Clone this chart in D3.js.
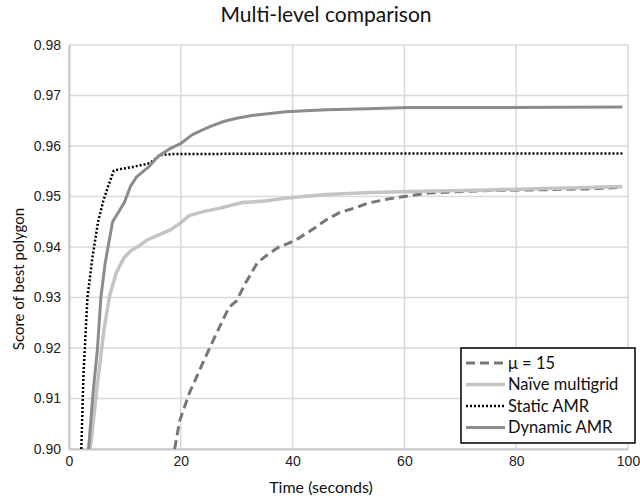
<!DOCTYPE html>
<meta charset="utf-8">
<style>
body { margin: 0; background: #fff; }
.grid line { stroke: #d9d9d9; stroke-width: 1.5; }
.tick text { font-family: "Liberation Sans", Arial, sans-serif; font-size: 14px; fill: #222; }
.title { font-family: Lato, "Open Sans", sans-serif; font-size: 21px; fill: #111; }
.axis-title { font-family: Lato, "Open Sans", sans-serif; font-size: 15px; fill: #111; }
.legend text { font-family: Lato, "Open Sans", sans-serif; font-size: 16.5px; fill: #111; }
</style>
<svg width="640" height="501"></svg>
<script src="https://cdn.jsdelivr.net/npm/d3@7"></script>
<script>

// values: [time (s), score]
var mu15 = [[18.9,0.900],[19.8,0.9056],[21.5,0.911],[22.6,0.9137],[23.8,0.9167],[26,0.922],[28.6,0.928],[30,0.9294],
  [31.5,0.9327],[33.7,0.9369],[35.2,0.9382],[37.4,0.9399],[40.3,0.9412],[43.2,0.9432],[46.2,0.9455],[48.4,0.9468],
  [51.3,0.9478],[53.5,0.9487],[57.1,0.9495],[60,0.950],[64.5,0.9507],[68.1,0.9509],[75.5,0.9512],[82.8,0.9513],
  [92.3,0.9515],[99,0.9518]];
var naive = [[3.8,0.900],[5,0.912],[6.3,0.924],[7.3,0.9305],[8.5,0.935],[9.8,0.9378],[11,0.9392],[12.5,0.9402],
  [14,0.9414],[16.3,0.9425],[18.3,0.9435],[20,0.9448],[21.5,0.9462],[24,0.947],[27,0.9477],[31,0.9488],[35,0.9491],
  [39,0.9497],[46,0.9504],[54,0.9508],[61,0.951],[75,0.9513],[99,0.952]];
var staticAmr = [[2.2,0.900],[2.6,0.915],[3.3,0.930],[4.2,0.938],[5.2,0.945],[6.1,0.949],[7,0.952],[8,0.9551],
  [9,0.9554],[11.2,0.9558],[14.5,0.9566],[16.3,0.9582],[18.5,0.9584],[40,0.9585],[99,0.9585]];
var dynamicAmr = [[3.5,0.900],[4.3,0.911],[5.1,0.920],[5.7,0.930],[6.5,0.937],[7.8,0.9450],[9.9,0.9488],[11,0.9520],
  [12.1,0.9539],[14.2,0.9558],[16,0.958],[18.1,0.9595],[20,0.9605],[22,0.9622],[23.5,0.963],[25.3,0.9639],
  [27.8,0.9649],[30,0.9655],[33,0.9661],[38.8,0.9668],[46,0.9672],[53.5,0.9674],[60.8,0.9676],[75.5,0.9676],[99,0.9677]];

var xTicks = [0, 20, 40, 60, 80, 100];
var yTicks = [0.90, 0.91, 0.92, 0.93, 0.94, 0.95, 0.96, 0.97, 0.98];
var seriesNames = ["\u03bc = 15", "Na\u00efve multigrid", "Static AMR", "Dynamic AMR"];

var series = [
  { name: seriesNames[0], values: mu15, color: "#777777", width: 3, dash: "9,5" },
  { name: seriesNames[1], values: naive, color: "#c4c4c4", width: 3.5, dash: null },
  { name: seriesNames[2], values: staticAmr, color: "#000000", width: 2.5, dash: "2,2" },
  { name: seriesNames[3], values: dynamicAmr, color: "#8c8c8c", width: 3, dash: null }
];

var svg = d3.select("svg"),
    margin = {top: 45, right: 12, bottom: 52, left: 69},
    width = 640 - margin.left - margin.right,
    height = 501 - margin.top - margin.bottom;

var x = d3.scaleLinear().domain([0, 100]).range([0, width]);
var y = d3.scaleLinear().domain([0.90, 0.98]).range([height, 0]);

var g = svg.append("g").attr("transform", "translate(" + margin.left + "," + margin.top + ")");

// grid
g.append("g").attr("class", "grid")
  .selectAll("line.h").data(yTicks).enter().append("line")
    .attr("x1", 0).attr("x2", width)
    .attr("y1", function(d) { return y(d); }).attr("y2", function(d) { return y(d); });
g.select(".grid")
  .selectAll("line.v").data(xTicks).enter().append("line")
    .attr("y1", 0).attr("y2", height)
    .attr("x1", function(d) { return x(d); }).attr("x2", function(d) { return x(d); });

// axes
var xAxis = g.append("g").attr("transform", "translate(0," + height + ")")
  .call(d3.axisBottom(x).tickValues(xTicks).tickSize(0).tickPadding(7));
var yAxis = g.append("g")
  .call(d3.axisLeft(y).tickValues(yTicks).tickSize(0).tickPadding(8).tickFormat(d3.format(".2f")));
[xAxis, yAxis].forEach(function(a) { a.select(".domain").attr("stroke", "#c8c8c8").attr("stroke-width", 2); });

// lines
var line = d3.line().x(function(d) { return x(d[0]); }).y(function(d) { return y(d[1]); });

g.selectAll("path.series").data(series).enter().append("path")
  .attr("class", "series")
  .attr("fill", "none")
  .attr("stroke", function(d) { return d.color; })
  .attr("stroke-width", function(d) { return d.width; })
  .attr("stroke-dasharray", function(d) { return d.dash; })
  .attr("stroke-linejoin", "round")
  .attr("d", function(d) { return line(d.values); });

// titles
svg.append("text").attr("class", "title")
  .attr("x", 326).attr("y", 22).attr("text-anchor", "middle")
  .text("Multi-level comparison");
svg.append("text").attr("class", "axis-title")
  .attr("x", 321).attr("y", 493).attr("text-anchor", "middle")
  .style("font-size", "16px")
  .text("Time (seconds)");
svg.append("text").attr("class", "axis-title")
  .attr("transform", "translate(24,279) rotate(-90)")
  .attr("text-anchor", "middle")
  .text("Score of best polygon");

// legend
var legend = svg.append("g").attr("class", "legend").attr("transform", "translate(461,348)");
legend.append("rect")
  .attr("width", 174).attr("height", 95)
  .attr("fill", "#fff").attr("stroke", "#000").attr("stroke-width", 1.5);
var item = legend.selectAll("g.item").data(series).enter().append("g")
  .attr("class", "item")
  .attr("transform", function(d, i) { return "translate(0," + (15 + i * 21.5) + ")"; });
item.append("line")
  .attr("x1", 5).attr("x2", 44).attr("y1", 0).attr("y2", 0)
  .attr("stroke", function(d) { return d.color; })
  .attr("stroke-width", function(d) { return d.width; })
  .attr("stroke-dasharray", function(d) { return d.dash; });
item.append("text")
  .attr("x", 47).attr("y", 0).attr("dy", "0.35em")
  .text(function(d) { return d.name; });

</script>
